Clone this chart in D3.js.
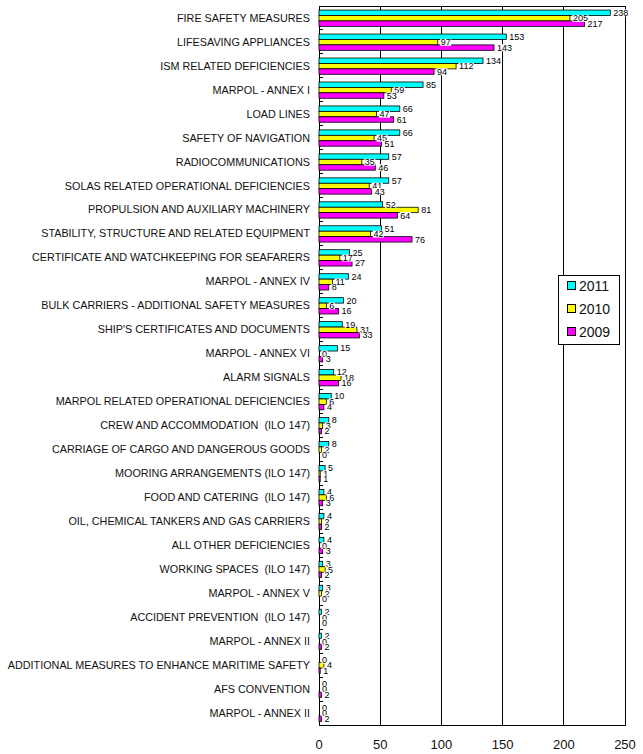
<!DOCTYPE html>
<html><head><meta charset="utf-8">
<script src="https://cdn.jsdelivr.net/npm/d3@7"></script>
<style>body{margin:0;background:#fff}svg{display:block}text{font-family:"Liberation Sans",Arial,sans-serif}</style>
</head><body><svg id="c" width="643" height="754"></svg>
<script>
const categories = ["FIRE SAFETY MEASURES","LIFESAVING APPLIANCES","ISM RELATED DEFICIENCIES","MARPOL - ANNEX I","LOAD LINES","SAFETY OF NAVIGATION","RADIOCOMMUNICATIONS","SOLAS RELATED OPERATIONAL DEFICIENCIES","PROPULSION AND AUXILIARY MACHINERY","STABILITY, STRUCTURE AND RELATED EQUIPMENT","CERTIFICATE AND WATCHKEEPING FOR SEAFARERS","MARPOL - ANNEX IV","BULK CARRIERS - ADDITIONAL SAFETY MEASURES","SHIP'S CERTIFICATES AND DOCUMENTS","MARPOL - ANNEX VI","ALARM SIGNALS","MARPOL RELATED OPERATIONAL DEFICIENCIES","CREW AND ACCOMMODATION  (ILO 147)","CARRIAGE OF CARGO AND DANGEROUS GOODS","MOORING ARRANGEMENTS (ILO 147)","FOOD AND CATERING  (ILO 147)","OIL, CHEMICAL TANKERS AND GAS CARRIERS","ALL OTHER DEFICIENCIES","WORKING SPACES  (ILO 147)","MARPOL - ANNEX V","ACCIDENT PREVENTION  (ILO 147)","MARPOL - ANNEX II","ADDITIONAL MEASURES TO ENHANCE MARITIME SAFETY","AFS CONVENTION","MARPOL - ANNEX II"];
const v2011 = [238,153,134,85,66,66,57,57,52,51,25,24,20,19,15,12,10,8,8,5,4,4,4,3,3,2,2,0,0,0];
const v2010 = [205,97,112,59,47,45,35,41,81,42,17,11,6,31,0,18,6,3,2,1,6,2,0,5,2,0,0,4,0,0];
const v2009 = [217,143,94,53,61,51,46,43,64,76,27,8,16,33,3,16,4,2,0,1,3,2,3,2,0,0,2,1,2,2];
const seriesNames = ["2011","2010","2009"];
const seriesColors = ["#00FFFF","#FFFF00","#FF00FF"];
const xTicks = [0,50,100,150,200,250];

const series = [v2011, v2010, v2009];
const svg = d3.select("#c");
const L = 319, R = 625, T = 6, B = 725;
const x = d3.scaleLinear().domain([0,250]).range([L,R]);
const y = d3.scaleBand().domain(d3.range(categories.length)).range([T,B]);
const inner = d3.scaleBand().domain(d3.range(3)).range([y.bandwidth()*0.17, y.bandwidth()*0.85]);

// gridlines
svg.append("g").selectAll("line").data(xTicks.slice(1,-1)).join("line")
  .attr("x1", d=>x(d)).attr("x2", d=>x(d)).attr("y1", T).attr("y2", B)
  .attr("stroke", "#000").attr("stroke-width", 1).attr("shape-rendering","crispEdges");
// border
svg.append("rect").attr("x", L).attr("y", T).attr("width", R-L).attr("height", B-T)
  .attr("fill","none").attr("stroke","#000").attr("stroke-width",1).attr("shape-rendering","crispEdges");

// bars
const data = [];
categories.forEach((c,i)=>series.forEach((s,j)=>data.push({i,j,v:s[i]})));
svg.append("g").selectAll("rect").data(data).join("rect")
  .attr("x", x(0)).attr("y", d=>y(d.i)+inner(d.j))
  .attr("width", d=>x(d.v)-x(0)).attr("height", inner.bandwidth())
  .attr("fill", d=>seriesColors[d.j]).attr("stroke","#000").attr("stroke-width",0.8);

// y axis with inward ticks at boundaries
svg.append("g").selectAll("line").data(d3.range(1,categories.length)).join("line")
  .attr("x1", L).attr("x2", L+4).attr("y1", d=>y(d)).attr("y2", d=>y(d))
  .attr("stroke","#000").attr("shape-rendering","crispEdges");

// category labels
svg.append("g").selectAll("text").data(categories).join("text")
  .attr("x", 310).attr("y", (d,i)=>y(i)+y.bandwidth()/2).attr("dy","0.35em")
  .attr("text-anchor","end").attr("font-size","10.8px").attr("fill","#111")
  .style("white-space","pre").text(d=>d);

// value labels
const lg = svg.append("g");
data.forEach(d=>{
  const tx = x(d.v)+3, ty = y(d.i)+inner(d.j)+inner.bandwidth()/2;
  const t = lg.append("text").attr("x", tx).attr("y", ty).attr("dy","0.35em")
    .attr("font-size","9px").attr("fill","#000").text(d.v);
  const bb = t.node().getBBox();
  lg.insert("rect", () => t.node()).attr("x", bb.x-0.5).attr("y", bb.y+1.5).attr("width", bb.width+1).attr("height", bb.height-3).attr("fill","#fff");
});

// x axis labels
svg.append("g").selectAll("text").data(xTicks).join("text")
  .attr("x", d=>x(d)).attr("y", 749).attr("text-anchor","middle")
  .attr("font-size","13px").attr("fill","#111").text(d=>d);

// legend
const leg = svg.append("g");
leg.append("rect").attr("x",558.5).attr("y",275.5).attr("width",61).attr("height",69)
  .attr("fill","#fff").attr("stroke","#000");
seriesNames.forEach((n,k)=>{
  const yy = 286 + k*23;
  leg.append("rect").attr("x",567.5).attr("y",yy-4.5).attr("width",8).attr("height",8)
    .attr("fill",seriesColors[k]).attr("stroke","#000");
  leg.append("text").attr("x",579).attr("y",yy).attr("dy","0.36em").attr("font-size","14px").attr("fill","#111").text(n);
});
</script></body></html>
